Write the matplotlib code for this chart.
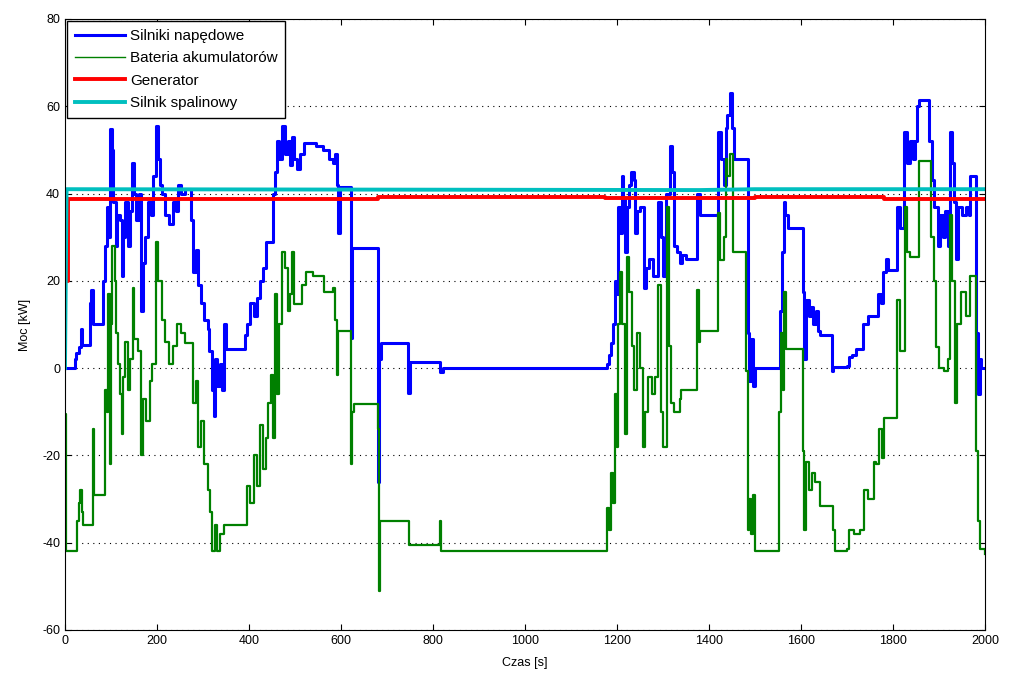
import matplotlib
matplotlib.use("Agg")
import matplotlib.pyplot as plt

# Silniki napedowe (drive motors) - time [s], power [kW]
t_motor = [0, 22, 25, 30, 35, 38, 52, 54, 57, 60, 80, 83, 86, 88, 91, 94, 98, 103, 105, 110,
           113, 120, 123, 127, 131, 137, 141, 146, 150, 155, 160, 165, 169, 174, 180, 186, 192,
           197, 202, 206, 212, 218, 226, 234, 241, 246, 252, 262, 275, 279, 284, 290, 296, 303,
           310, 314, 319, 323, 326, 331, 336, 341, 345, 349, 391, 395, 402, 410, 417, 424, 431,
           437, 447, 452, 457, 461, 466, 472, 478, 484, 489, 494, 498, 505, 512, 520, 545, 562,
           575, 583, 588, 591, 593, 598, 621, 622, 624, 678, 680, 683, 686, 743, 746, 750, 812,
           815, 822, 1174, 1178, 1182, 1186, 1191, 1196, 1199, 1203, 1206, 1210, 1214, 1217,
           1222, 1226, 1231, 1236, 1240, 1244, 1250, 1258, 1264, 1270, 1279, 1290, 1295, 1301,
           1307, 1315, 1320, 1324, 1330, 1337, 1342, 1351, 1370, 1375, 1380, 1417, 1420, 1426,
           1432, 1436, 1440, 1446, 1451, 1455, 1482, 1485, 1487, 1492, 1495, 1500, 1551, 1555,
           1559, 1563, 1566, 1572, 1601, 1604, 1607, 1611, 1617, 1622, 1627, 1632, 1637, 1641,
           1663, 1667, 1670, 1699, 1705, 1712, 1720, 1728, 1735, 1745, 1764, 1768, 1774, 1779,
           1785, 1790, 1804, 1808, 1815, 1822, 1825, 1830, 1836, 1843, 1848, 1853, 1857, 1875,
           1879, 1884, 1890, 1897, 1902, 1908, 1914, 1919, 1924, 1928, 1932, 1936, 1942, 1950,
           1958, 1965, 1968, 1978, 1981, 1985, 1989, 1992, 2000]
p_motor = [0, 2, 3.5, 4.8, 8.9, 5.3, 5.3, 15, 18, 10, 10, 20, 25, 28, 37, 30, 54.7, 50, 38, 28,
           35, 34, 21, 30, 38, 28, 36, 47, 40, 34, 40, 13, 24, 30, 38, 35, 44,
           55.5, 48, 42, 40, 35, 33, 38, 36, 42, 40, 41, 34, 22, 27, 19, 15, 11,
           9, 4, -5, -11, 2, -4, 1, -5, 10, 4.4, 7.5, 10, 15, 12, 16, 20, 23,
           29, 29, 40, 45, 52, 48, 55.5, 49, 52, 46.5, 53, 48, 45.6, 49, 51.5, 51, 50,
           48, 47, 49, 42, 31, 41.5, 41.5, 7, 27.5, 27.5, -26, 2, 5.7, 5.7, -5.6, 1.4, 1.4,
           -1, 0, 0, 1, 3, 5.7, 10, 20, 17, 37, 31, 44, 39, 26.5,
           37, 42, 45, 43, 31, 36, 37, 18.4, 23, 25, 21, 38, 30, 21,
           40, 51, 45, 28, 26.5, 24, 26, 25, 25, 40, 35, 35, 54, 48,
           42, 55, 58, 63, 55, 48, 48, 8, -3, 6.6, -4, 0, 0, 13,
           26.5, 38, 35, 32, 32, 17.5, 2, 15.7, 12, 14, 10, 13, 8.4, 7.5,
           7.5, -0.6, 0.3, 0.5, 2.5, 3, 4.4, 4.4, 10, 12, 12, 17, 15, 22,
           25, 22.5, 22.5, 37, 32, 32, 54, 47, 52, 48, 52, 60, 61.5, 61.5,
           52, 43, 37, 28, 35, 30, 36, 28, 54, 47, 38, 25, 37, 35,
           37, 35, 44, 44, 8, -6, 2, 0, 0]

# Bateria akumulatorow (battery)
t_batt = [0, 3, 25, 27, 30, 33, 37, 40, 58, 61, 64, 83, 87, 91, 94, 97, 99, 102, 108, 112,
          116, 120, 123, 127, 131, 137, 141, 147, 150, 158, 166, 170, 176, 184, 190, 197, 202,
          210, 218, 226, 234, 244, 252, 262, 275, 279, 284, 290, 296, 303, 310, 315, 320, 326,
          331, 336, 345, 391, 395, 402, 410, 417, 424, 431, 437, 442, 447, 452, 457, 461, 466,
          472, 478, 484, 489, 494, 498, 510, 515, 525, 540, 560, 563, 583, 588, 591, 594, 620,
          622, 625, 628, 678, 680, 682, 684, 745, 748, 812, 815, 818, 1174, 1178, 1182, 1186,
          1192, 1196, 1199, 1203, 1207, 1212, 1217, 1221, 1226, 1232, 1238, 1244, 1250, 1257,
          1262, 1268, 1276, 1282, 1290, 1295, 1301, 1308, 1313, 1318, 1324, 1336, 1340, 1370,
          1374, 1378, 1380, 1417, 1420, 1425, 1432, 1436, 1440, 1446, 1452, 1478, 1481, 1484,
          1488, 1492, 1496, 1500, 1551, 1553, 1556, 1560, 1563, 1567, 1601, 1604, 1607, 1611,
          1617, 1623, 1630, 1641, 1667, 1670, 1673, 1700, 1705, 1715, 1728, 1736, 1745, 1758,
          1764, 1770, 1776, 1780, 1804, 1808, 1815, 1822, 1826, 1830, 1838, 1851, 1856, 1877,
          1882, 1889, 1893, 1900, 1910, 1920, 1924, 1928, 1934, 1940, 1948, 1958, 1967, 1978,
          1981, 1985, 1990, 2000]
p_batt = [-10.6, -42, -42, -35, -31, -28, -33, -36, -36, -14, -29, -29, -5, -10, 17, -22, 10, 28, 20, 8,
          1, -6, -15, -2, 6, -5, 2, 18.4, 6.6, 4, -20, -7, -12, -3, 1, 29, 20,
          11, 6, 1, 5, 10, 8, 5.7, 5.7, -8, -3, -18, -12, -22, -28, -33, -42, -36,
          -42, -38, -36, -36, -27, -31, -20, -27, -13, -23, -16, -8, -1.6, -16, 17, -6, 10,
          26.5, 23, 13, 17, 26.5, 14.8, 14.8, 19, 22, 21, 21, 17.5, 18.4, 11, -1.5, 8.4, 8.4,
          -22, -10, -8.3, -8.3, -14, -51, -35, -35, -40.5, -40.5, -35, -42, -42, -32, -37, -24,
          -31, -6, -18, 10, 22, 10, -15, 25.5, 17.5, 5, -5, 8, 0, -18,
          -10, -2, -6, -2, 19, -10, -18, 37, 5, -8, -10, -7, -5, -5,
          18, 6, 8.4, 8.4, 35.6, 24.8, 30, 48, 44, 49, 26.5, 26.5, -0.6, -37,
          -30, -38, -29, -42, -42, -10, 8, -5, 17.5, 4.4, 4.4, -19, -37, -21.5,
          -28, -24, -26, -31.5, -31.5, -37, -42, -41.5, -37, -38, -37, -28, -30, -21.5,
          -22, -14, -20.5, -11.5, -11.5, 15.7, 4, 4, 37, 26.5, 25.5, 25.5, 47.5, 47.5,
          30, 20, 4.8, 0, -0.6, 2, 35, 20, -8, 10, 17.5, 12, 21, 21,
          -19, -35, -41.5, -42.5]

# Generator
t_gen = [0, 6, 680, 1175, 1500, 1780, 2000]
p_gen = [20, 38.8, 39.3, 38.9, 39.1, 38.8, 38.8]

# Silnik spalinowy (combustion engine)
t_eng = [0, 3.5, 1380, 1500, 2000]
p_eng = [0, 41, 40.8, 41, 41]

plt.rcParams['font.family'] = ['Liberation Sans', 'DejaVu Sans']
plt.rcParams['font.size'] = 9
plt.rcParams['axes.unicode_minus'] = False

fig = plt.figure(figsize=(10.12, 6.73), dpi=100)
ax = fig.add_axes([0.0642, 0.0639, 0.9091, 0.9079])

ax.plot(t_motor, p_motor, color='#0000FF', lw=2.2, drawstyle='steps-post', label='Silniki napędowe')
ax.plot(t_batt, p_batt, color='#008000', lw=1.6, drawstyle='steps-post', label='Bateria akumulatorów')
ax.plot(t_gen, p_gen, color='#FF0000', lw=2.8, drawstyle='steps-post', label='Generator')
ax.plot(t_eng, p_eng, color='#00BFBF', lw=2.8, label='Silnik spalinowy')

ax.set_xlim(0, 2000)
ax.set_ylim(-60, 80)
ax.set_xticks(range(0, 2001, 200))
ax.set_yticks(range(-60, 81, 20))
ax.tick_params(direction='in', top=True, right=True, length=4, labelsize=9)
ax.yaxis.grid(True, linestyle=(0, (1, 4)), color='black', lw=0.8)
ax.set_xlabel('Czas [s]', labelpad=7)
ax.set_ylabel('Moc [kW]', labelpad=8)

leg = ax.legend(loc='upper left', borderaxespad=0.15, handlelength=3.3, fontsize=11,
                fancybox=False, edgecolor='black', framealpha=1, labelspacing=0.55,
                handletextpad=0.3, borderpad=0.5)
leg.get_frame().set_linewidth(1.0)
leg.get_lines()[1].set_linewidth(1.0)

fig.savefig('out.png', dpi=100)
